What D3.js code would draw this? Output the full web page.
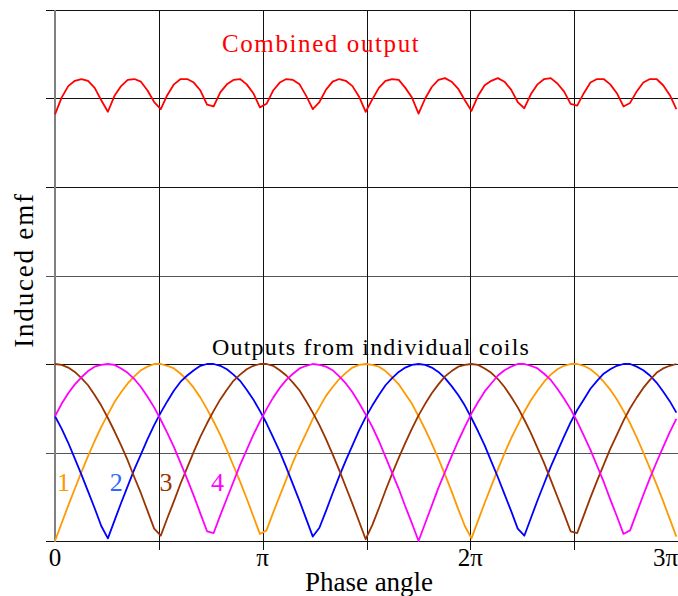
<!DOCTYPE html>
<html>
<head>
<meta charset="utf-8">
<script src="https://cdn.jsdelivr.net/npm/d3@7"></script>
<style>
  body { margin: 0; background: #fff; }
  svg { display: block; font-family: "Liberation Serif", "Times New Roman", serif; }
</style>
</head>
<body>
<div id="chart"></div>
<script>
// phase angle in radians, sampled every 0.1
const phase = [
  0.0, 0.1, 0.2, 0.3, 0.4, 0.5, 0.6, 0.7, 0.8, 0.9, 1.0, 1.1, 1.2, 1.3, 1.4, 1.5,
  1.6, 1.7, 1.8, 1.9, 2.0, 2.1, 2.2, 2.3, 2.4, 2.5, 2.6, 2.7, 2.8, 2.9, 3.0, 3.1,
  3.2, 3.3, 3.4, 3.5, 3.6, 3.7, 3.8, 3.9, 4.0, 4.1, 4.2, 4.3, 4.4, 4.5, 4.6, 4.7,
  4.8, 4.9, 5.0, 5.1, 5.2, 5.3, 5.4, 5.5, 5.6, 5.7, 5.8, 5.9, 6.0, 6.1, 6.2, 6.3,
  6.4, 6.5, 6.6, 6.7, 6.8, 6.9, 7.0, 7.1, 7.2, 7.3, 7.4, 7.5, 7.6, 7.7, 7.8, 7.9,
  8.0, 8.1, 8.2, 8.3, 8.4, 8.5, 8.6, 8.7, 8.8, 8.9, 9.0, 9.1, 9.2, 9.3, 9.4
];

const coil1 = [
  0.00, 0.20, 0.40, 0.59, 0.78, 0.96, 1.13, 1.29, 1.43, 1.57, 1.68, 1.78, 1.86, 1.93, 1.97, 2.00,
  2.00, 1.98, 1.95, 1.89, 1.82, 1.73, 1.62, 1.49, 1.35, 1.20, 1.03, 0.85, 0.67, 0.48, 0.28, 0.08,
  0.12, 0.32, 0.51, 0.70, 0.89, 1.06, 1.22, 1.38, 1.51, 1.64, 1.74, 1.83, 1.90, 1.96, 1.99, 2.00,
  1.99, 1.97, 1.92, 1.85, 1.77, 1.66, 1.55, 1.41, 1.26, 1.10, 0.93, 0.75, 0.56, 0.36, 0.17, 0.03,
  0.23, 0.43, 0.62, 0.81, 0.99, 1.16, 1.31, 1.46, 1.59, 1.70, 1.80, 1.88, 1.94, 1.98, 2.00, 2.00,
  1.98, 1.94, 1.88, 1.80, 1.71, 1.60, 1.47, 1.33, 1.17, 1.00, 0.82, 0.64, 0.45, 0.25, 0.05
];

const coil2 = [
  1.41, 1.27, 1.11, 0.93, 0.75, 0.56, 0.37, 0.17, 0.03, 0.23, 0.43, 0.62, 0.81, 0.98, 1.15, 1.31,
  1.45, 1.58, 1.70, 1.80, 1.87, 1.93, 1.98, 2.00, 2.00, 1.98, 1.94, 1.88, 1.81, 1.71, 1.60, 1.47,
  1.33, 1.17, 1.01, 0.83, 0.64, 0.45, 0.25, 0.05, 0.15, 0.34, 0.54, 0.73, 0.91, 1.08, 1.25, 1.40,
  1.53, 1.65, 1.76, 1.84, 1.91, 1.96, 1.99, 2.00, 1.99, 1.96, 1.91, 1.84, 1.75, 1.65, 1.53, 1.39,
  1.24, 1.08, 0.90, 0.72, 0.53, 0.34, 0.14, 0.06, 0.26, 0.46, 0.65, 0.84, 1.01, 1.18, 1.34, 1.48,
  1.60, 1.72, 1.81, 1.89, 1.94, 1.98, 2.00, 2.00, 1.97, 1.93, 1.87, 1.79, 1.69, 1.58, 1.45
];

const coil3 = [
  2.00, 1.99, 1.96, 1.91, 1.84, 1.76, 1.65, 1.53, 1.39, 1.24, 1.08, 0.91, 0.72, 0.54, 0.34, 0.14,
  0.06, 0.26, 0.45, 0.65, 0.83, 1.01, 1.18, 1.33, 1.47, 1.60, 1.71, 1.81, 1.88, 1.94, 1.98, 2.00,
  2.00, 1.98, 1.93, 1.87, 1.79, 1.70, 1.58, 1.45, 1.31, 1.15, 0.98, 0.80, 0.61, 0.42, 0.22, 0.02,
  0.18, 0.37, 0.57, 0.76, 0.94, 1.11, 1.27, 1.42, 1.55, 1.67, 1.77, 1.86, 1.92, 1.97, 1.99, 2.00,
  1.99, 1.95, 1.90, 1.83, 1.74, 1.63, 1.51, 1.37, 1.22, 1.05, 0.88, 0.69, 0.50, 0.31, 0.11, 0.09,
  0.29, 0.49, 0.68, 0.86, 1.04, 1.20, 1.36, 1.50, 1.62, 1.73, 1.82, 1.90, 1.95, 1.98, 2.00
];

const coil4 = [
  1.41, 1.55, 1.67, 1.77, 1.85, 1.92, 1.97, 1.99, 2.00, 1.99, 1.95, 1.90, 1.83, 1.74, 1.63, 1.51,
  1.37, 1.22, 1.06, 0.88, 0.70, 0.51, 0.31, 0.11, 0.09, 0.29, 0.48, 0.67, 0.86, 1.03, 1.20, 1.35,
  1.49, 1.62, 1.73, 1.82, 1.89, 1.95, 1.98, 2.00, 1.99, 1.97, 1.93, 1.86, 1.78, 1.68, 1.56, 1.43,
  1.29, 1.13, 0.95, 0.77, 0.59, 0.39, 0.20, 0.00, 0.20, 0.40, 0.60, 0.78, 0.96, 1.13, 1.29, 1.44,
  1.57, 1.69, 1.78, 1.87, 1.93, 1.97, 2.00, 2.00, 1.98, 1.95, 1.89, 1.82, 1.72, 1.61, 1.49, 1.35,
  1.19, 1.03, 0.85, 0.67, 0.47, 0.28, 0.08, 0.12, 0.32, 0.52, 0.71, 0.89, 1.06, 1.23, 1.38
];

const combined = [
  4.82, 5.01, 5.14, 5.20, 5.22, 5.20, 5.12, 4.98, 4.85, 5.03, 5.14, 5.21, 5.22, 5.19, 5.09, 4.96,
  4.88, 5.04, 5.16, 5.22, 5.22, 5.18, 5.09, 4.93, 4.91, 5.07, 5.16, 5.21, 5.22, 5.16, 5.06, 4.90,
  4.94, 5.09, 5.18, 5.22, 5.21, 5.16, 5.03, 4.88, 4.96, 5.10, 5.19, 5.22, 5.20, 5.14, 5.02, 4.85,
  4.99, 5.12, 5.20, 5.22, 5.21, 5.12, 5.01, 4.83, 5.00, 5.13, 5.21, 5.23, 5.19, 5.11, 4.98, 4.86,
  5.03, 5.15, 5.20, 5.23, 5.19, 5.10, 4.96, 4.89, 5.05, 5.16, 5.22, 5.23, 5.17, 5.08, 4.94, 4.92,
  5.06, 5.18, 5.22, 5.22, 5.16, 5.06, 4.91, 4.95, 5.08, 5.18, 5.22, 5.22, 5.15, 5.04, 4.88
];

// grid and tick labels (x in multiples of pi)
const xGrid = [0.5, 1, 1.5, 2, 2.5, 3];
const xTicks = [0, 1, 2, 3];
const xTickLabels = ["0", "\u03c0", "2\u03c0", "3\u03c0"];
const yGrid = [0, 1, 2, 3, 4, 5, 6];

const coilNames = ["1", "2", "3", "4"];
const coilColors = ["#ff9900", "#0000ff", "#993300", "#ff00ff"];
const coilLabelColors = ["#ff9900", "#3366ff", "#993300", "#ff00ff"];

const width = 678;
const height = 596;
const margin = { top: 10, right: 0, bottom: 55, left: 55 };

const svg = d3.select("#chart")
  .append("svg")
  .attr("width", width)
  .attr("height", height);

const xScale = d3.scaleLinear()
  .domain([0, 3 * Math.PI])
  .range([margin.left, width - margin.right]);

const yScale = d3.scaleLinear()
  .domain([0, 6])
  .range([height - margin.bottom, margin.top]);

// horizontal grid lines (with small tick stubs on the left)
svg.append("g")
  .selectAll("line")
  .data(yGrid)
  .enter()
  .append("line")
  .attr("x1", margin.left - 9)
  .attr("x2", width)
  .attr("y1", (d) => Math.round(yScale(d)) + 0.5)
  .attr("y2", (d) => Math.round(yScale(d)) + 0.5)
  .attr("stroke", (d) => (d % 2 === 0 || d === 5 ? "#111" : "#555"))
  .attr("stroke-width", 1);

// vertical grid lines, running a bit below the plot as ticks
svg.append("g")
  .selectAll("line")
  .data(xGrid)
  .enter()
  .append("line")
  .attr("x1", (d) => Math.round(xScale(d * Math.PI)) + 0.5)
  .attr("x2", (d) => Math.round(xScale(d * Math.PI)) + 0.5)
  .attr("y1", yScale(6))
  .attr("y2", yScale(0) + 9)
  .attr("stroke", "#111")
  .attr("stroke-width", 1);

// left axis line
svg.append("line")
  .attr("x1", margin.left)
  .attr("x2", margin.left)
  .attr("y1", yScale(6))
  .attr("y2", yScale(0) + 1)
  .attr("stroke", "#808080")
  .attr("stroke-width", 2);

// curves
const line = d3.line()
  .x((d, i) => xScale(phase[i]))
  .y((d) => yScale(d));

[coil1, coil2, coil3, coil4].forEach(function (series, k) {
  svg.append("path")
    .datum(series)
    .attr("d", line)
    .attr("fill", "none")
    .attr("stroke", coilColors[k])
    .attr("stroke-width", 1.8)
    .attr("stroke-linejoin", "round");
});

svg.append("path")
  .datum(combined)
  .attr("d", line)
  .attr("fill", "none")
  .attr("stroke", "#ff0000")
  .attr("stroke-width", 1.8)
  .attr("stroke-linejoin", "round");

// x tick labels
svg.append("g")
  .selectAll("text")
  .data(xTicks)
  .enter()
  .append("text")
  .attr("x", (d) => xScale(d * Math.PI))
  .attr("y", 566)
  .attr("text-anchor", (d, i) => (i === xTicks.length - 1 ? "end" : "middle"))
  .attr("font-size", 25)
  .attr("fill", "#000")
  .text((d, i) => xTickLabels[i]);

// coil number labels (x in radians)
const coilLabelX = [0.03, 0.83, 1.58, 2.36];
svg.append("g")
  .selectAll("text")
  .data(coilNames)
  .enter()
  .append("text")
  .attr("x", (d, i) => xScale(coilLabelX[i]))
  .attr("y", 491)
  .attr("font-size", 26)
  .attr("fill", (d, i) => coilLabelColors[i])
  .text((d) => d);

// titles
svg.append("text")
  .attr("x", 222)
  .attr("y", 52)
  .attr("font-size", 25)
  .attr("letter-spacing", 1.6)
  .attr("fill", "#ff0000")
  .text("Combined output");

svg.append("text")
  .attr("x", 212)
  .attr("y", 355)
  .attr("font-size", 24)
  .attr("letter-spacing", 1.2)
  .attr("fill", "#000")
  .text("Outputs from individual coils");

svg.append("text")
  .attr("x", 369)
  .attr("y", 591)
  .attr("text-anchor", "middle")
  .attr("font-size", 27)
  .attr("fill", "#000")
  .text("Phase angle");

svg.append("text")
  .attr("transform", "translate(33, 270) rotate(-90)")
  .attr("text-anchor", "middle")
  .attr("font-size", 27)
  .attr("letter-spacing", 1.8)
  .attr("fill", "#000")
  .text("Induced emf");
</script>
</body>
</html>
